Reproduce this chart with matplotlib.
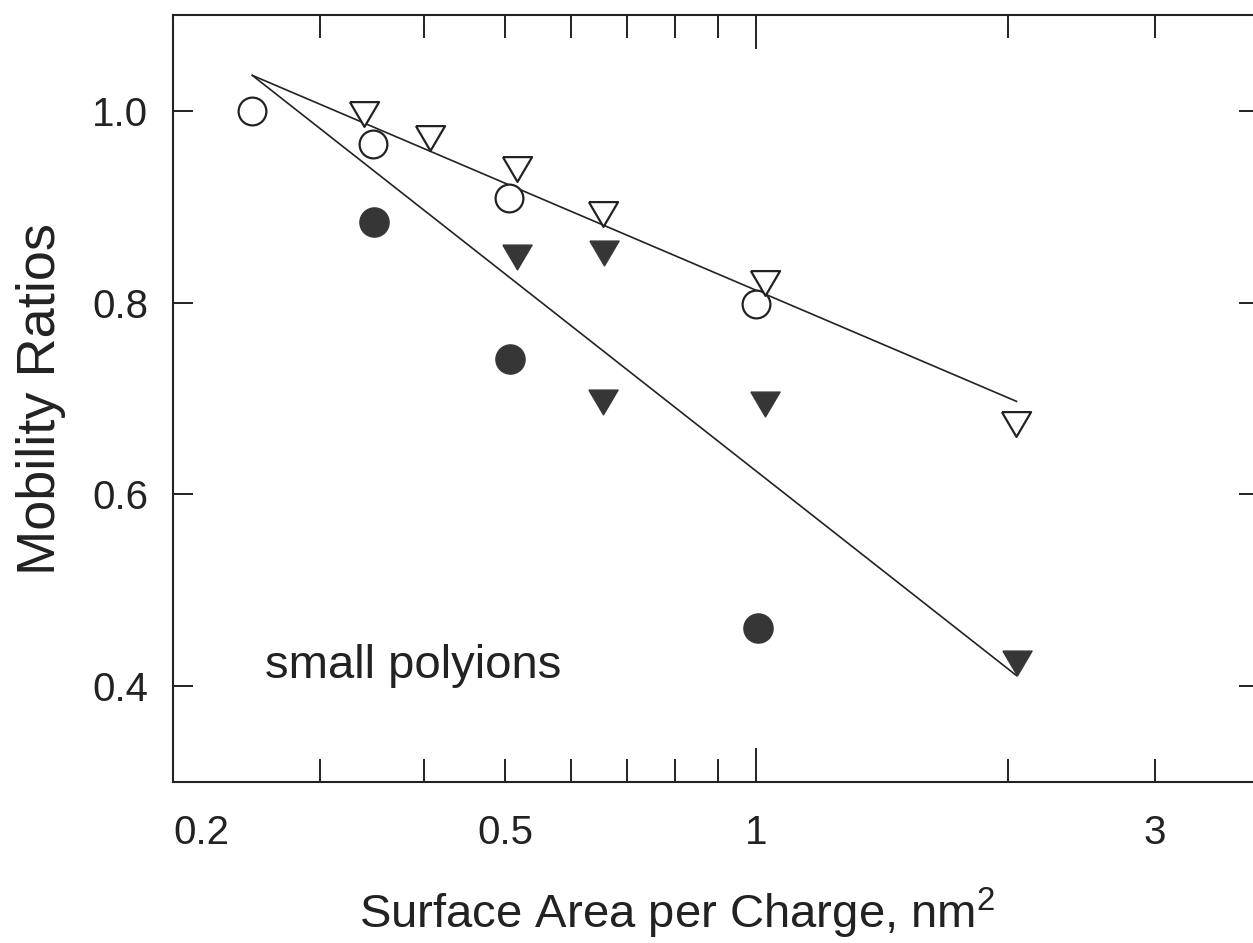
import matplotlib
matplotlib.use("Agg")
import matplotlib.pyplot as plt
from matplotlib.ticker import FixedLocator, FixedFormatter, NullFormatter

plt.rcParams['font.family'] = ['Liberation Sans', 'DejaVu Sans']
plt.rcParams['mathtext.fontset'] = 'custom'
plt.rcParams['mathtext.rm'] = 'Liberation Sans'
plt.rcParams['mathtext.default'] = 'regular'

# Data (x = surface area per charge, nm^2)
open_circle_x = [0.249, 0.347, 0.506, 1.0]
open_circle_y = [1.000, 0.965, 0.909, 0.799]

open_tri_x = [0.339, 0.407, 0.517, 0.655, 1.025, 2.047]
open_tri_y = [0.997, 0.972, 0.939, 0.892, 0.820, 0.673]

filled_circle_x = [0.348, 0.507, 1.005]
filled_circle_y = [0.884, 0.741, 0.461]

filled_tri_x = [0.517, 0.656, 0.655, 1.025, 2.05]
filled_tri_y = [0.848, 0.852, 0.696, 0.694, 0.424]

# fitted lines (straight on log-x)
fit_x = [0.249, 2.05]
fit_upper_y = [1.037, 0.697]
fit_lower_y = [1.037, 0.411]

tick_vals = [0.2, 0.5, 1, 3]
tick_labels = ['0.2', '0.5', '1', '3']
minor_vals = [0.3, 0.4, 0.6, 0.7, 0.8, 0.9, 2]
y_ticks = [0.4, 0.6, 0.8, 1.0]

ink = '#222222'
fill = '#363636'

# wider-than-tall down triangle
tri_down = [(-1, 0.85), (1, 0.85), (0, -0.85), (-1, 0.85)]

fig = plt.figure(figsize=(12.53, 9.43), dpi=100)
ax = fig.add_axes([0.138, 0.1707, 0.8667, 0.8134])

ax.plot(fit_x, fit_upper_y, color=ink, lw=1.2)
ax.plot(fit_x, fit_lower_y, color=ink, lw=1.2)

ax.plot(open_circle_x, open_circle_y, 'o', ms=20, mfc='white', mec=ink, mew=1.6, ls='none')
ax.plot(open_tri_x, open_tri_y, marker=tri_down, ms=21, mfc='white', mec=ink, mew=1.6, ls='none')
ax.plot(filled_circle_x, filled_circle_y, 'o', ms=21, mfc=fill, mec=fill, mew=1, ls='none')
ax.plot(filled_tri_x, filled_tri_y, marker=tri_down, ms=21, mfc=fill, mec=fill, mew=1, ls='none')

ax.text(0.258, 0.408, 'small polyions', fontsize=34, color=ink, ha='left', va='baseline')

ax.set_xscale('log')
ax.set_xlim(0.2, 4)
ax.set_ylim(0.3, 1.1)

ax.xaxis.set_major_locator(FixedLocator(tick_vals))
ax.xaxis.set_major_formatter(FixedFormatter(tick_labels))
ax.xaxis.set_minor_locator(FixedLocator(minor_vals))
ax.xaxis.set_minor_formatter(NullFormatter())
ax.set_yticks(y_ticks)
ax.set_yticklabels(['0.4', '0.6', '0.8', '1.0'])

ax.tick_params(axis='x', which='both', direction='in', top=True, bottom=True,
               length=16.5, width=1.4, pad=23, labelsize=29, colors=ink)
ax.tick_params(axis='y', which='both', direction='in', left=True, right=True,
               length=14.5, width=1.4, pad=18, labelsize=29, colors=ink)

# the tick at 1 is longer
for t, v in zip(ax.xaxis.get_major_ticks(), tick_vals):
    if v == 1:
        t.tick1line.set_markersize(24.5)
        t.tick2line.set_markersize(24.5)
ax.get_xticklabels()[0].set_horizontalalignment('left')

for s in ax.spines.values():
    s.set_linewidth(1.5)
    s.set_color(ink)

ax.set_xlabel(r'Surface Area per Charge, nm$^2$', fontsize=34, color=ink, va='top')
ax.xaxis.set_label_coords(0.464, -0.136)
ax.set_ylabel('Mobility Ratios', fontsize=39, color=ink)
ax.yaxis.set_label_coords(-0.0985, 0.5)

fig.savefig('out.png', dpi=100, facecolor='white')
